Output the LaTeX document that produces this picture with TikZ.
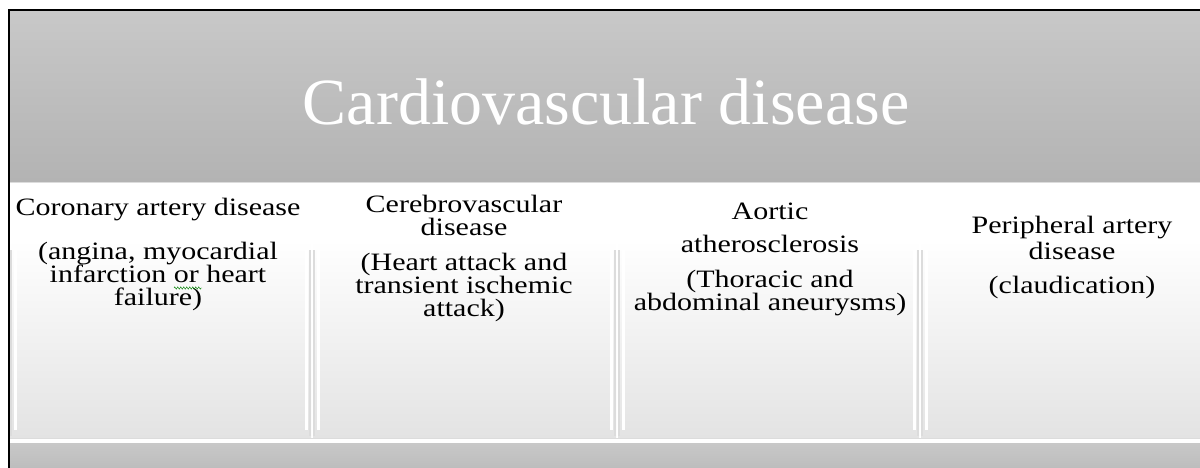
\documentclass[tikz,border=0pt]{standalone}
\usepackage{fontspec}
\setmainfont{Liberation Serif}
\newfontfamily\feldfont[FakeStretch=1.2]{Liberation Serif}
\usetikzlibrary{positioning, decorations.pathmorphing}
\definecolor{kopfhell}{HTML}{C8C8C8}
\definecolor{kopfdunkel}{HTML}{B3B3B3}
\definecolor{feld}{HTML}{E3E3E3}
\definecolor{rand}{HTML}{DCDCDC}
\definecolor{fuss}{HTML}{BDBDBD}

\begin{document}
\begin{tikzpicture}[x=1pt, y=-1pt,
    every node/.style={font=\feldfont\fontsize{25}{23}\selectfont, align=center,
                       inner sep=0pt, anchor=north}]
      \useasboundingbox (0,0) rectangle (1200,468);
      % Kopfzeile
      \shade[top color=kopfhell, bottom color=kopfdunkel] (10,11) rectangle (1200,182);
      \draw[rand] (10,182.5) -- (1200,182.5);
      \node[font=\fontsize{66}{66}\selectfont, text=white, anchor=base] (titel) at (606,125)
        {Cardiovascular disease};
      % Felder
      \foreach \a/\b in {10/311, 313/616, 618/919, 921/1222} {
        \shade[top color=white, bottom color=feld] (\a,240) rectangle (\b,438);
        \draw[rand, line width=1.5pt] (\a+1,250) -- (\a+1,436);
        \draw[rand, line width=1.5pt] (\b-1,250) -- (\b-1,436);
        \draw[white, line width=3pt] (\a+5,250) -- (\a+5,430);
        \draw[white, line width=3pt] (\b-5,250) -- (\b-5,430);
      }
      % Fusszeile
      \draw[rand] (10,438.5) -- (1200,438.5);
      \fill[white] (10,439) rectangle (1200,443);
      \shade[top color=kopfhell, bottom color=fuss] (10,443) rectangle (1200,468);
      % Texte
      \node (koronar) at (158,198)
        {Coronary artery disease\\[21pt](angina, myocardial\\infarction or heart\\failure)};
      \node (zerebral) at (464,195)
        {Cerebrovascular\\disease\\[12pt](Heart attack and\\transient ischemic\\attack)};
      \node (aorta) at (770,203)
        {Aortic\\[10pt]atherosclerosis\\[12pt](Thoracic and\\abdominal aneurysms)};
      \node (peripher) at (1072,216)
        {Peripheral artery\\[3pt]disease\\[11pt](claudication)};
      \draw[green!50!black, decorate, decoration={zigzag, amplitude=1.2pt, segment length=3pt}]
        (174,288) -- (202,288);
      % Rahmen
      \draw[line width=2.5pt] (9,468) -- (9,10) -- (1200,10);
    \end{tikzpicture}
\end{document}
